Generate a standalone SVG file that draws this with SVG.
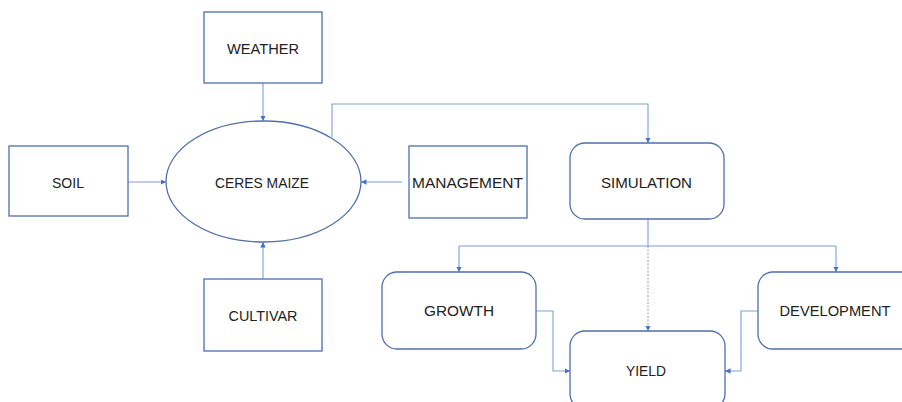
<svg xmlns="http://www.w3.org/2000/svg" width="902" height="402" viewBox="0 0 902 402">
<defs>
<style>
.box{fill:#fff;stroke:#4f6fae;stroke-width:1.3}
.lbl{font-family:"Liberation Sans",Arial,sans-serif;font-size:15.5px;fill:#222;text-anchor:middle}
.con{fill:none;stroke:#7e9fd8;stroke-width:1.1}
.dot{fill:none;stroke:#7e9fd8;stroke-width:1;stroke-dasharray:2 1.5}
</style>
<marker id="ah" viewBox="0 0 10 10" refX="10" refY="5" markerWidth="5.5" markerHeight="5.5" orient="auto" markerUnits="userSpaceOnUse">
<path d="M0,0 L10,5 L0,10 z" fill="#4472c4"/>
</marker>
</defs>
<rect width="902" height="402" fill="#fff"/>
<g id="connectors">
<path class="con" d="M263,83 V121" marker-end="url(#ah)"/>
<path class="con" d="M128,182 H166" marker-end="url(#ah)"/>
<path class="con" d="M402,182 H361" marker-end="url(#ah)"/>
<path class="con" d="M263,279 V242" marker-end="url(#ah)"/>
<path class="con" d="M332,137 V104 H648 V143" marker-end="url(#ah)"/>
<path class="con" d="M648,219 V246"/>
<path class="con" d="M459,246 H836"/>
<path class="con" d="M459,246 V272" marker-end="url(#ah)"/>
<path class="con" d="M836,246 V272" marker-end="url(#ah)"/>
<path class="dot" d="M648,246 V331" marker-end="url(#ah)"/>
<path class="con" d="M536,311 H553 V371 H570" marker-end="url(#ah)"/>
<path class="con" d="M758,311 H741 V371 H725" marker-end="url(#ah)"/>
</g>
<g id="weather"><rect class="box" x="204" y="12" width="118" height="71"/><text class="lbl" x="263" y="54" textLength="72" lengthAdjust="spacingAndGlyphs">WEATHER</text></g>
<g id="ceres-maize"><ellipse class="box" cx="263.5" cy="181.5" rx="97.5" ry="60.5"/><text class="lbl" x="262" y="188" textLength="94" lengthAdjust="spacingAndGlyphs">CERES MAIZE</text></g>
<g id="soil"><rect class="box" x="9" y="146" width="119" height="70"/><text class="lbl" x="68" y="188" textLength="32" lengthAdjust="spacingAndGlyphs">SOIL</text></g>
<g id="management"><rect class="box" x="409" y="146" width="118" height="72"/><text class="lbl" x="467.5" y="188" textLength="111" lengthAdjust="spacingAndGlyphs">MANAGEMENT</text></g>
<g id="cultivar"><rect class="box" x="204" y="279" width="118" height="72"/><text class="lbl" x="263" y="321" textLength="69" lengthAdjust="spacingAndGlyphs">CULTIVAR</text></g>
<g id="simulation"><rect class="box" x="570" y="143" width="154" height="76" rx="15"/><text class="lbl" x="646.5" y="188" textLength="91" lengthAdjust="spacingAndGlyphs">SIMULATION</text></g>
<g id="growth"><rect class="box" x="382" y="272" width="154" height="77" rx="15"/><text class="lbl" x="459" y="316" textLength="70" lengthAdjust="spacingAndGlyphs">GROWTH</text></g>
<g id="development"><rect class="box" x="758" y="272" width="170" height="77" rx="15"/><text class="lbl" x="835" y="316" textLength="111" lengthAdjust="spacingAndGlyphs">DEVELOPMENT</text></g>
<g id="yield"><rect class="box" x="570" y="331" width="155" height="78" rx="15"/><text class="lbl" x="646" y="376" textLength="40" lengthAdjust="spacingAndGlyphs">YIELD</text></g>
</svg>
